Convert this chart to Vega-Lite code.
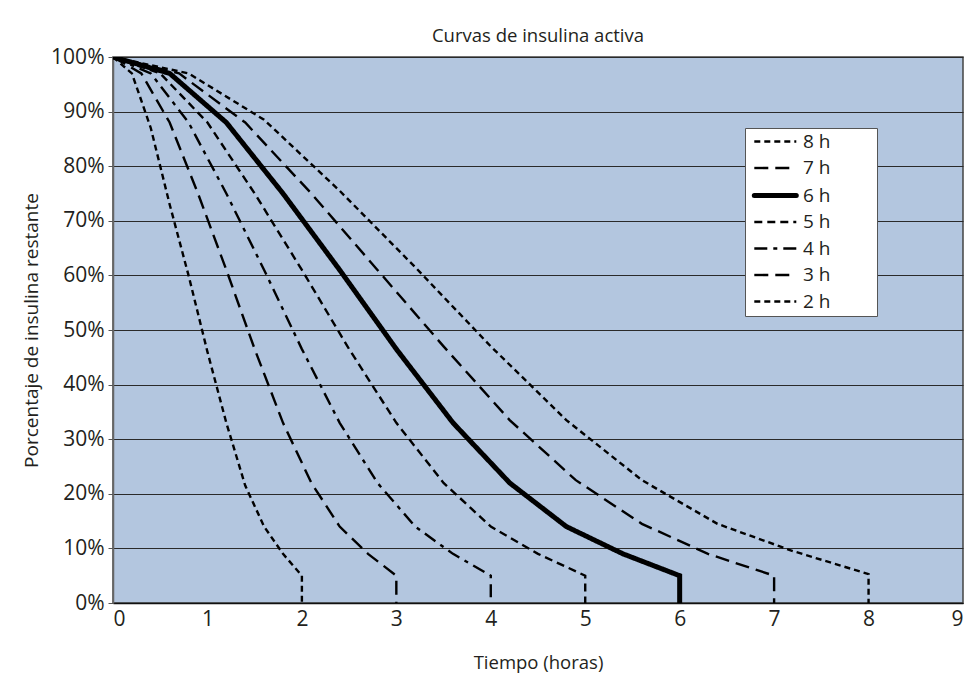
{
  "$schema": "https://vega.github.io/schema/vega-lite/v6.json",
  "width": 850,
  "height": 546,
  "autosize": {"type": "none"},
  "padding": {"left": 113, "top": 57, "right": 13, "bottom": 77},
  "background": "white",
  "title": {"text": "Curvas de insulina activa", "fontSize": 18.5, "fontWeight": "normal", "font": "Open Sans", "color": "#231f20", "offset": 1, "anchor": "middle"},
  "data": {"values": [
    {"s":"2 h","t":0,"p":1,"i":0},{"s":"2 h","t":0.2,"p":0.97,"i":1},{"s":"2 h","t":0.4,"p":0.87,"i":2},{"s":"2 h","t":0.6,"p":0.73,"i":3},{"s":"2 h","t":0.8,"p":0.6,"i":4},{"s":"2 h","t":1.0,"p":0.46,"i":5},{"s":"2 h","t":1.2,"p":0.33,"i":6},{"s":"2 h","t":1.4,"p":0.215,"i":7},{"s":"2 h","t":1.6,"p":0.14,"i":8},{"s":"2 h","t":1.8,"p":0.09,"i":9},{"s":"2 h","t":2,"p":0.05,"i":10},{"s":"2 h","t":2,"p":0,"i":11},
    {"s":"3 h","t":0,"p":1,"i":0},{"s":"3 h","t":0.3,"p":0.97,"i":1},{"s":"3 h","t":0.6,"p":0.88,"i":2},{"s":"3 h","t":0.9,"p":0.75,"i":3},{"s":"3 h","t":1.2,"p":0.61,"i":4},{"s":"3 h","t":1.5,"p":0.465,"i":5},{"s":"3 h","t":1.8,"p":0.33,"i":6},{"s":"3 h","t":2.1,"p":0.22,"i":7},{"s":"3 h","t":2.4,"p":0.14,"i":8},{"s":"3 h","t":2.7,"p":0.09,"i":9},{"s":"3 h","t":3,"p":0.05,"i":10},{"s":"3 h","t":3,"p":0,"i":11},
    {"s":"4 h","t":0,"p":1,"i":0},{"s":"4 h","t":0.4,"p":0.97,"i":1},{"s":"4 h","t":0.8,"p":0.88,"i":2},{"s":"4 h","t":1.2,"p":0.75,"i":3},{"s":"4 h","t":1.6,"p":0.61,"i":4},{"s":"4 h","t":2.0,"p":0.465,"i":5},{"s":"4 h","t":2.4,"p":0.33,"i":6},{"s":"4 h","t":2.8,"p":0.22,"i":7},{"s":"4 h","t":3.2,"p":0.14,"i":8},{"s":"4 h","t":3.6,"p":0.09,"i":9},{"s":"4 h","t":4,"p":0.05,"i":10},{"s":"4 h","t":4,"p":0,"i":11},
    {"s":"5 h","t":0,"p":1,"i":0},{"s":"5 h","t":0.5,"p":0.97,"i":1},{"s":"5 h","t":1.0,"p":0.88,"i":2},{"s":"5 h","t":1.5,"p":0.75,"i":3},{"s":"5 h","t":2.0,"p":0.61,"i":4},{"s":"5 h","t":2.5,"p":0.465,"i":5},{"s":"5 h","t":3.0,"p":0.33,"i":6},{"s":"5 h","t":3.5,"p":0.22,"i":7},{"s":"5 h","t":4.0,"p":0.14,"i":8},{"s":"5 h","t":4.5,"p":0.09,"i":9},{"s":"5 h","t":5,"p":0.05,"i":10},{"s":"5 h","t":5,"p":0,"i":11},
    {"s":"6 h","t":0,"p":1,"i":0},{"s":"6 h","t":0.6,"p":0.97,"i":1},{"s":"6 h","t":1.2,"p":0.88,"i":2},{"s":"6 h","t":1.8,"p":0.75,"i":3},{"s":"6 h","t":2.4,"p":0.61,"i":4},{"s":"6 h","t":3.0,"p":0.465,"i":5},{"s":"6 h","t":3.6,"p":0.33,"i":6},{"s":"6 h","t":4.2,"p":0.22,"i":7},{"s":"6 h","t":4.8,"p":0.14,"i":8},{"s":"6 h","t":5.4,"p":0.09,"i":9},{"s":"6 h","t":6,"p":0.05,"i":10},{"s":"6 h","t":6,"p":0,"i":11},
    {"s":"7 h","t":0,"p":1,"i":0},{"s":"7 h","t":0.7,"p":0.97,"i":1},{"s":"7 h","t":1.4,"p":0.88,"i":2},{"s":"7 h","t":2.1,"p":0.75,"i":3},{"s":"7 h","t":2.8,"p":0.61,"i":4},{"s":"7 h","t":3.5,"p":0.47,"i":5},{"s":"7 h","t":4.2,"p":0.335,"i":6},{"s":"7 h","t":4.9,"p":0.225,"i":7},{"s":"7 h","t":5.6,"p":0.145,"i":8},{"s":"7 h","t":6.3,"p":0.09,"i":9},{"s":"7 h","t":7,"p":0.05,"i":10},{"s":"7 h","t":7,"p":0,"i":11},
    {"s":"8 h","t":0,"p":1,"i":0},{"s":"8 h","t":0.8,"p":0.97,"i":1},{"s":"8 h","t":1.6,"p":0.885,"i":2},{"s":"8 h","t":2.4,"p":0.755,"i":3},{"s":"8 h","t":3.2,"p":0.615,"i":4},{"s":"8 h","t":4.0,"p":0.47,"i":5},{"s":"8 h","t":4.8,"p":0.335,"i":6},{"s":"8 h","t":5.6,"p":0.225,"i":7},{"s":"8 h","t":6.4,"p":0.145,"i":8},{"s":"8 h","t":7.2,"p":0.095,"i":9},{"s":"8 h","t":8,"p":0.053,"i":10},{"s":"8 h","t":8,"p":0,"i":11}
  ]},
  "mark": {"type": "line", "color": "black", "clip": true, "strokeCap": "butt"},
  "encoding": {
    "x": {"field": "t", "type": "quantitative", "scale": {"domain": [0, 9], "nice": false},
      "axis": {"values": [0,1,2,3,4,5,6,7,8,9], "title": "Tiempo (horas)", "grid": false, "ticks": false, "labelPadding": 5, "titlePadding": 24, "domainColor": "#111", "domainWidth": 1.5}},
    "y": {"field": "p", "type": "quantitative", "scale": {"domain": [0, 1], "nice": false},
      "axis": {"values": [0,0.1,0.2,0.3,0.4,0.5,0.6,0.7,0.8,0.9,1], "format": ".0%", "title": "Porcentaje de insulina restante", "titleFontSize": 19, "grid": true, "gridColor": "#2a2a2a", "gridWidth": 1, "gridOpacity": 1, "tickSize": 5, "tickColor": "#555", "labelPadding": 4, "titlePadding": 9, "domainColor": "#666", "domainWidth": 1.5}},
    "order": {"field": "i", "type": "quantitative"},
    "strokeDash": {"field": "s", "type": "nominal",
      "scale": {"domain": ["8 h","7 h","6 h","5 h","4 h","3 h","2 h"], "range": [[6,4],[14,7],[1,0],[8,5],[13,6,4,6],[14,7],[6,4]]},
      "legend": {"title": null, "labelExpr": "datum.label + '\u2800\u2800\u2800'",
        "encode": {"symbols": {"update": {"strokeWidth": {"signal": "datum.value === '6 h' ? 5 : 2.4"}, "strokeCap": {"signal": "datum.value === '6 h' ? 'round' : 'butt'"}}}}}},
    "strokeWidth": {"condition": {"test": "datum.s === '6 h'", "value": 5}, "value": 2.4}
  },
  "config": {
    "font": "Open Sans",
    "view": {"fill": "#b3c6df", "stroke": "#444", "strokeWidth": 1.5},
    "axis": {"labelFont": "Open Sans", "labelFontSize": 21, "labelColor": "#231f20", "titleFont": "Open Sans", "titleFontSize": 18.5, "titleFontWeight": "normal", "titleColor": "#231f20"},
    "legend": {"orient": "none", "legendX": 632, "legendY": 71, "fillColor": "white", "strokeColor": "#555", "padding": 4, "symbolType": "M-0.4,0L3.6,0", "symbolSize": 441, "symbolStrokeColor": "black", "symbolFillColor": "transparent", "labelFont": "Open Sans", "labelFontSize": 19, "labelColor": "#231f20", "labelOffset": 35, "rowPadding": 6.5}
  }
}
